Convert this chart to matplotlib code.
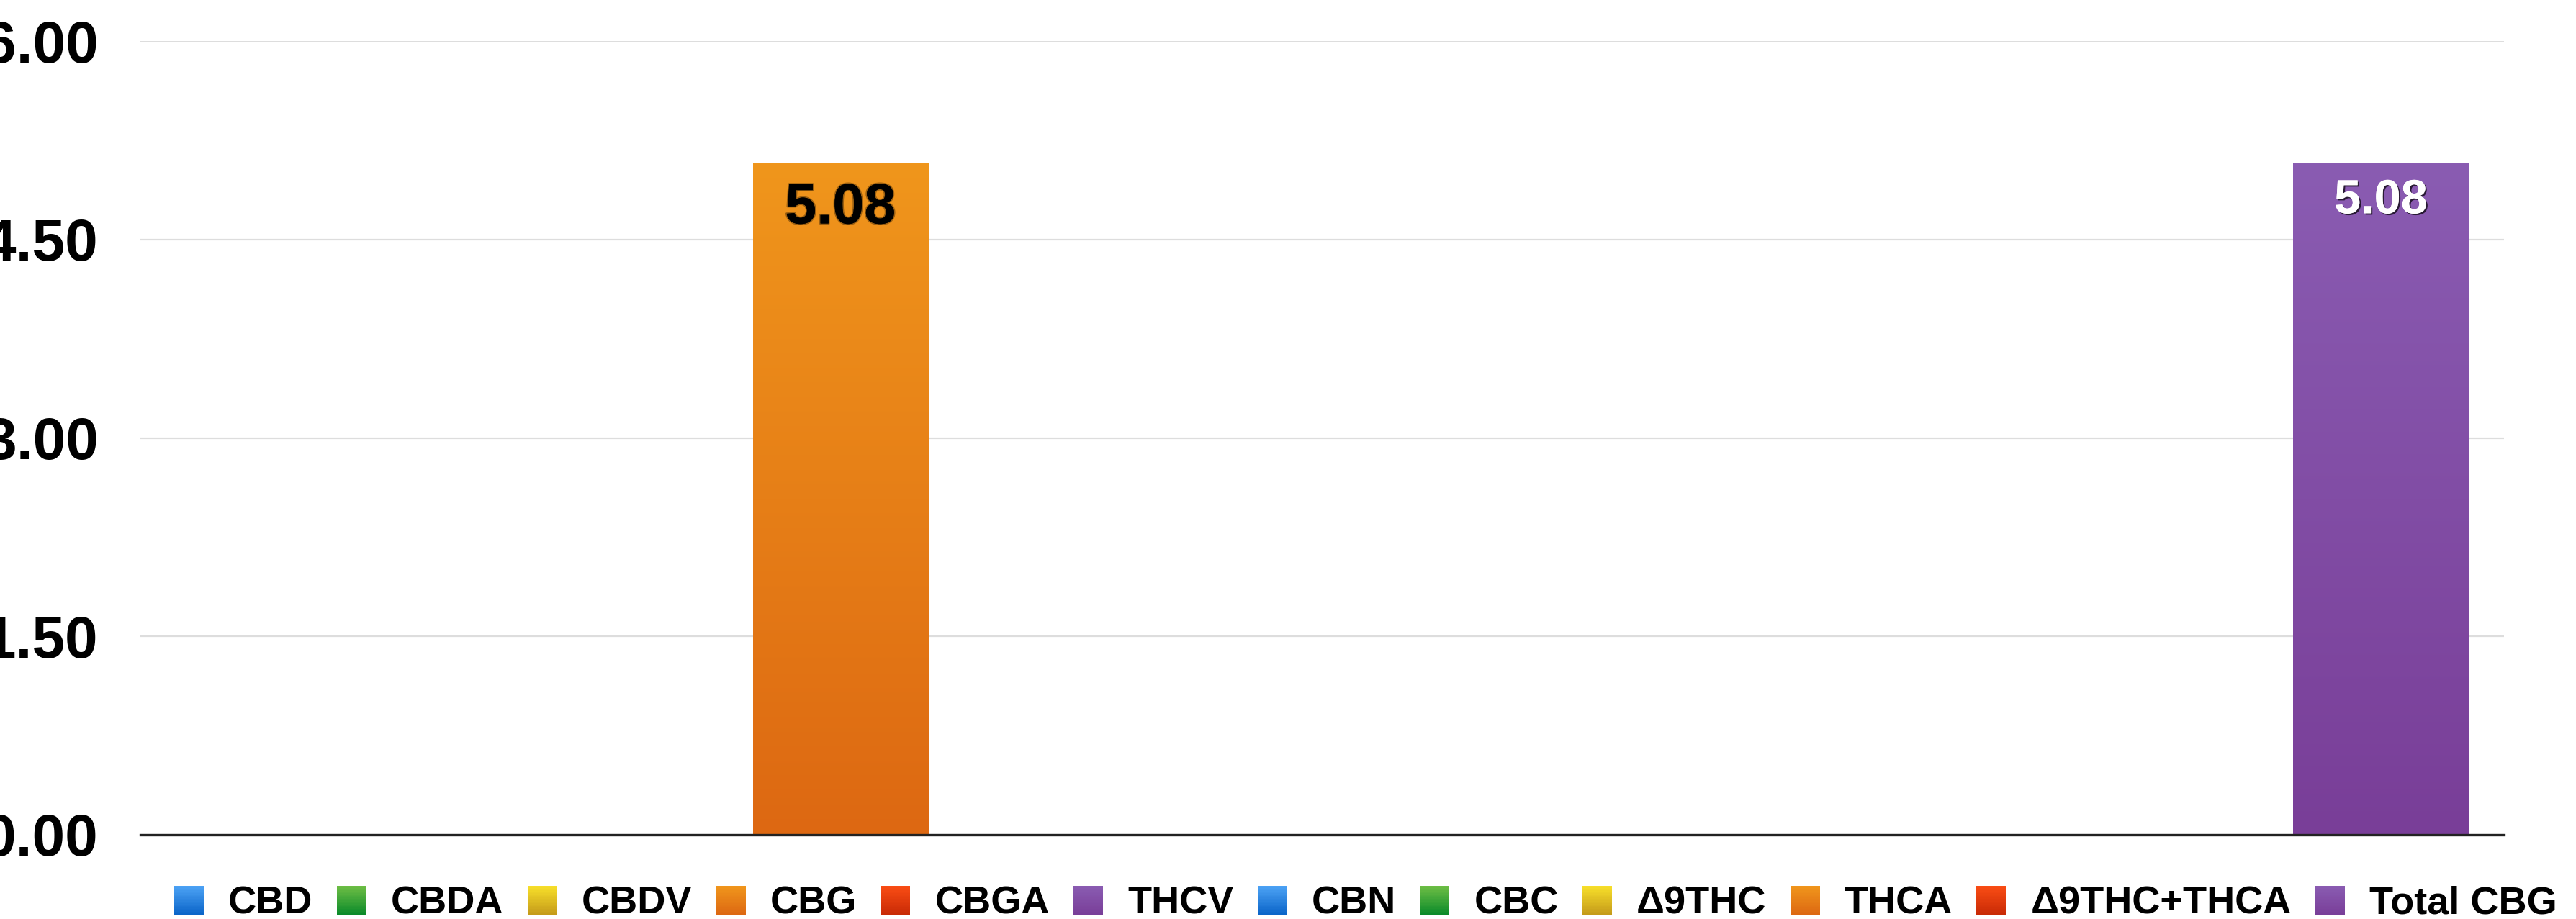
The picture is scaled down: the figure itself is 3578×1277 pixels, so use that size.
import numpy as np
import matplotlib
matplotlib.use("Agg")
import matplotlib.pyplot as plt
from matplotlib.patches import Rectangle
from matplotlib.legend_handler import HandlerBase
from matplotlib.colors import to_rgb
import matplotlib.patheffects as pe

# ---- data ----
categories = ["CBD", "CBDA", "CBDV", "CBG", "CBGA", "THCV",
              "CBN", "CBC", "Δ9THC", "THCA", "Δ9THC+THCA", "Total CBG"]
values = [0, 0, 0, 5.08, 0, 0, 0, 0, 0, 0, 0, 5.08]
yticks = [0.0, 1.5, 3.0, 4.5, 6.0]
top_colors = ["#4DA3F5", "#6EBE45", "#F8E02A", "#F0961C", "#FA4D14", "#8A5CB2",
              "#4DA3F5", "#6EBE45", "#F8E02A", "#F0961C", "#FA4D14", "#8A5CB2"]
bottom_colors = ["#0A64C8", "#0A8A2A", "#C49A1A", "#DD6812", "#C82A06", "#793E98",
                 "#0A64C8", "#0A8A2A", "#C49A1A", "#DD6812", "#C82A06", "#793E98"]
label_colors = ["black", "black", "black", "black", "black", "white",
                "black", "black", "black", "black", "black", "white"]
label_sizes = [57, 57, 57, 57, 57, 48, 57, 57, 57, 57, 57, 48]

FONT = "Liberation Sans"
plt.rcParams["font.family"] = [FONT, "DejaVu Sans"]
plt.rcParams["font.weight"] = "bold"

W, H = 3578, 1277
fig = plt.figure(figsize=(W / 100, H / 100), dpi=100)
ax = fig.add_axes([195 / W, 1 - 1160 / H, (3478 - 195) / W, (1160 - 57) / H])

x = np.arange(len(categories))
bars = ax.bar(x, values, width=0.91, color=top_colors, linewidth=0, zorder=2)

# gradient fill inside each bar
for b, tc, bc in zip(bars, top_colors, bottom_colors):
    h = b.get_height()
    if h <= 0:
        continue
    t = np.array(to_rgb(tc)); bo = np.array(to_rgb(bc))
    g = np.linspace(0, 1, 256)[:, None]
    img = (t[None, :] * (1 - g) + bo[None, :] * g)[:, None, :]
    im = ax.imshow(img, extent=[b.get_x(), b.get_x() + b.get_width(), 0, h],
                   aspect="auto", origin="upper", zorder=2.5, interpolation="bilinear")
    im.set_clip_path(b)

# value labels
for b, v, lc, ls in zip(bars, values, label_colors, label_sizes):
    if v <= 0:
        continue
    if lc == "white":
        eff = [pe.withSimplePatchShadow(offset=(1.5, -1.5), shadow_rgbFace="black", alpha=0.7), pe.Normal()]
        off = -16
    else:
        eff = [pe.withStroke(linewidth=2.5, foreground=(0, 0, 0, 0.35))]
        off = -19
    ax.annotate(f"{v:.2f}", xy=(b.get_x() + b.get_width() / 2, v), xytext=(0, off),
                textcoords="offset points", ha="center", va="top",
                fontsize=ls, fontweight="bold", color=lc, zorder=5, path_effects=eff)

ax.set_xlim(-0.635, 11.64)
ax.set_ylim(0, 6)
ax.set_yticks(yticks)
ax.set_yticklabels([f"{t:.2f}" for t in yticks])
ax.set_xticks([])
ax.tick_params(axis="y", length=0, pad=42, labelsize=59)
for lab in ax.get_yticklabels():
    lab.set_fontweight("bold")
ax.yaxis.grid(True, color="#DDDDDD", linewidth=1.6)
ax.set_axisbelow(True)
for s in ["top", "right", "left"]:
    ax.spines[s].set_visible(False)
ax.spines["bottom"].set_color("#222222")
ax.spines["bottom"].set_linewidth(2.4)
ax.spines["bottom"].set_zorder(4)


class GradHandler(HandlerBase):
    def create_artists(self, legend, orig_handle, xdescent, ydescent, width, height, fontsize, trans):
        tc = np.array(to_rgb(orig_handle._top)); bc = np.array(to_rgb(orig_handle._bot))
        n = 20
        arts = []
        for i in range(n):
            f = (i + 0.5) / n
            c = bc * (1 - f) + tc * f
            r = Rectangle((-xdescent, -ydescent + i * height / n), width, height / n * 1.05,
                          facecolor=c, edgecolor="none", transform=trans)
            arts.append(r)
        return arts


handles = []
for cat, tc, bc in zip(categories, top_colors, bottom_colors):
    r = Rectangle((0, 0), 1, 1, facecolor=tc)
    r._top = tc
    r._bot = bc
    handles.append(r)

fs = 39
leg = fig.legend(handles, categories, loc="lower left", bbox_to_anchor=(242 / W, -4 / H),
                 ncol=12, frameon=False, prop={"family": FONT, "weight": "bold", "size": fs},
                 handlelength=41 / 54, handleheight=41 / 54, handletextpad=34 / 54,
                 columnspacing=33 / 54, borderpad=0, borderaxespad=0,
                 handler_map={Rectangle: GradHandler()})

fig.savefig("out.png", dpi=100)
